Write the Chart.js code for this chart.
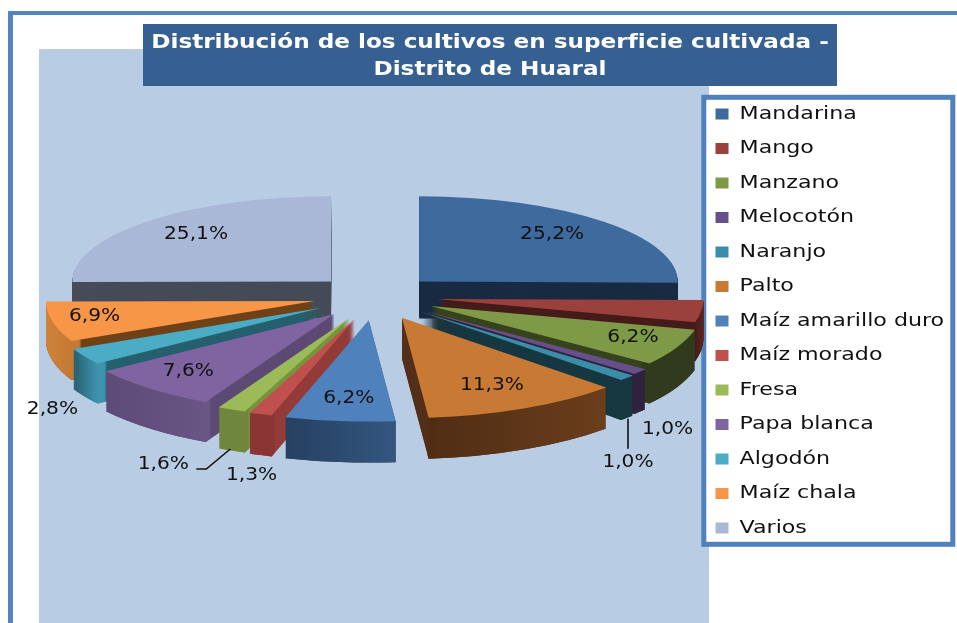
<!DOCTYPE html>
<html lang="es">
<head>
<meta charset="utf-8">
<title>Distribución de los cultivos</title>
<style>html,body{margin:0;padding:0;background:#fff}canvas{display:block}</style>
<script src="https://cdn.jsdelivr.net/npm/chart.js@4/dist/chart.umd.min.js"></script>
</head>
<body>
<canvas id="c" width="957" height="623"></canvas>
<script>
const titleLines = ['Distribución de los cultivos en superficie cultivada -', 'Distrito de Huaral'];
const categories = ['Mandarina','Mango','Manzano','Melocotón','Naranjo','Palto','Maíz amarillo duro','Maíz morado','Fresa','Papa blanca','Algodón','Maíz chala','Varios'];
const shares = [25.2,3.8,6.2,1.0,1.0,11.3,6.2,1.3,1.6,7.6,2.8,6.9,25.1];
const showLabel = [true,false,true,true,true,true,true,true,true,true,true,true,true];

const topColors  = ['#3E6A9E','#9A403D','#7F9A46','#66508A','#3A8EA8','#C87A35','#4F81BD','#C0504D','#9BBB59','#8064A2','#4BACC6','#F79646','#A9B8D6'];
const cutColors  = ['#182B42','#451C1A','#38431F','#30213F','#173841','#55301A','#264060','#923B39','#77933C','#5D4A74','#26606F','#6F4218','#454B58'];
const rimStart   = ['#182B42','#451C1A','#2F3B1C','#30213F','#173841','#4F2D14','#264060','#8A3533','#6F873D','#5D4A78','#26606F','#D08239','#454B58'];
const rimEnd     = ['#182B42','#5C2523','#2F3B1C','#30213F','#173841','#6B3E1C','#34567F','#8A3533','#6F873D','#6A5585','#3E94AE','#C47A34','#454B58'];
const labelShift = [[133,-47],null,[202,31],[244,119],[207,150],[90,68],[-20,78],[-103,156],[-186,146],[-146,57],[-269,102],[-220,15],[-135,-47]];
const leaders = {4:[[0,-13],[0,-43]], 8:[[33,5],[43,5],[67,-15]]};

const pieCentre = {x:375, y:296}, radius = 258, explode = 62;
const squash = {back:.32, front:.393}, depth = {back:36, front:41}, frontWiden = .11;
const legendStretch = 1.23, labelStretch = 1.12, titleStretch = 1.157;
const blue = '#5585BF';

function frontness(arc){ return (Math.sin((arc.startAngle+arc.endAngle)/2)+1)/2; }
function place(ctx, arc, dy){
  const mid=(arc.startAngle+arc.endAngle)/2, f=frontness(arc), sy=squash.back+(squash.front-squash.back)*f;
  ctx.translate(pieCentre.x+Math.cos(mid)*explode, pieCentre.y+dy+Math.sin(mid)*explode*sy);
  ctx.scale(1+frontWiden*f*f,sy);
  ctx.translate(-arc.x,-arc.y);
}
function paint(arc, ctx, fill){
  const o=arc.options;
  arc.options=Object.create(o,{backgroundColor:{value:fill}});
  arc.draw(ctx);
  arc.options=o;
}
function stretched(ctx, s, cx, drawFn){
  ctx.save(); ctx.transform(s,0,0,1,cx*(1-s),0); drawFn(); ctx.restore();
}

const scene = {
  id:'scene',
  afterLayout(chart){
    const l=chart.legend, t=chart.titleBlock, p=l.options.labels.padding;
    l.left=715.5-p; l.right=l.left+l.width; l.top=105-p; l.bottom=l.top+l.height;
    t.left=143; t.right=837; t.top=28.5; t.bottom=t.top+t.height;
    if(!l._wrapped){
      const ld=l.draw.bind(l), td=t.draw.bind(t);
      l.draw=()=>stretched(chart.ctx,legendStretch,715.5,ld);
      t.draw=()=>stretched(chart.ctx,titleStretch,490,td);
      l._wrapped=true;
    }
  },
  beforeDraw(chart){
    const c=chart.ctx;
    c.save();
    c.fillStyle='#fff'; c.fillRect(0,0,957,623);
    c.fillStyle=blue; c.fillRect(8,11,5,612); c.fillRect(8,11,949,4);
    c.fillStyle='#B8CCE4'; c.fillRect(39,49,670,574);
    c.fillStyle='#376092'; c.fillRect(143,24,694,62);
    c.fillStyle='#fff'; c.fillRect(703,97,250,448);
    c.strokeStyle='#4F81BD'; c.lineWidth=5; c.strokeRect(703.8,97.3,249,447);
    c.restore();
  },
  beforeDatasetsDraw(chart){
    const c=chart.ctx, arcs=chart.getDatasetMeta(0).data;
    const order=arcs.map((a,i)=>i).sort((a,b)=>Math.sin((arcs[a].startAngle+arcs[a].endAngle)/2)-Math.sin((arcs[b].startAngle+arcs[b].endAngle)/2));
    order.forEach(i=>{
      const a=arcs[i], f=frontness(a), d=Math.round(depth.back+(depth.front-depth.back)*f);
      const xs=[Math.cos(a.startAngle),Math.cos(a.endAngle)].map(v=>a.x+v*a.outerRadius);
      const g=c.createLinearGradient(Math.min(...xs),0,Math.max(...xs),0);
      g.addColorStop(0,rimStart[i]); g.addColorStop(1,rimEnd[i]);
      for(let k=d;k>0;k--){ c.save(); place(c,a,k); paint(a,c,cutColors[i]); c.restore(); }
      for(let k=d;k>0;k--){
        c.save(); place(c,a,k);
        c.beginPath();
        c.arc(a.x,a.y,a.outerRadius+2,0,Math.PI*2);
        c.arc(a.x,a.y,a.outerRadius-10,0,Math.PI*2,true);
        c.clip();
        paint(a,c,g);
        c.restore();
      }
      c.save(); place(c,a,0); a.draw(c); c.restore();
    });
    // percentage labels
    c.save();
    c.fillStyle='#111'; c.strokeStyle='#111'; c.lineWidth=1.6;
    c.font='18px "DejaVu Sans"'; c.textAlign='center'; c.textBaseline='middle';
    arcs.forEach((a,i)=>{
      if(!showLabel[i]) return;
      const mid=(a.startAngle+a.endAngle)/2, sy=squash.back+(squash.front-squash.back)*frontness(a);
      const x=pieCentre.x+Math.cos(mid)*explode+labelShift[i][0];
      const y=pieCentre.y+Math.sin(mid)*explode*sy+labelShift[i][1];
      if(leaders[i]){
        c.beginPath();
        leaders[i].forEach((p,n)=>n?c.lineTo(x+p[0],y+p[1]):c.moveTo(x+p[0],y+p[1]));
        c.stroke();
      }
      c.save(); c.translate(x,y); c.scale(labelStretch,1);
      c.fillText(shares[i].toFixed(1).replace('.',',')+'%',0,0);
      c.restore();
    });
    c.restore();
    return false;
  }
};

new Chart(document.getElementById('c'),{
  type:'pie',
  plugins:[scene],
  data:{labels:categories,datasets:[{data:shares,backgroundColor:topColors,borderWidth:0,radius:radius}]},
  options:{
    responsive:false,animation:false,events:[],
    layout:{padding:0},
    plugins:{
      tooltip:{enabled:false},
      title:{display:true,text:titleLines,color:'#fff',padding:0,font:{family:'"DejaVu Sans"',size:20,weight:'bold',lineHeight:1.39}},
      legend:{position:'right',align:'start',labels:{boxWidth:13/legendStretch,boxHeight:11,padding:16.5,color:'#111',font:{family:'"DejaVu Sans"',size:18}}}
    }
  }
});
</script>
</body>
</html>
